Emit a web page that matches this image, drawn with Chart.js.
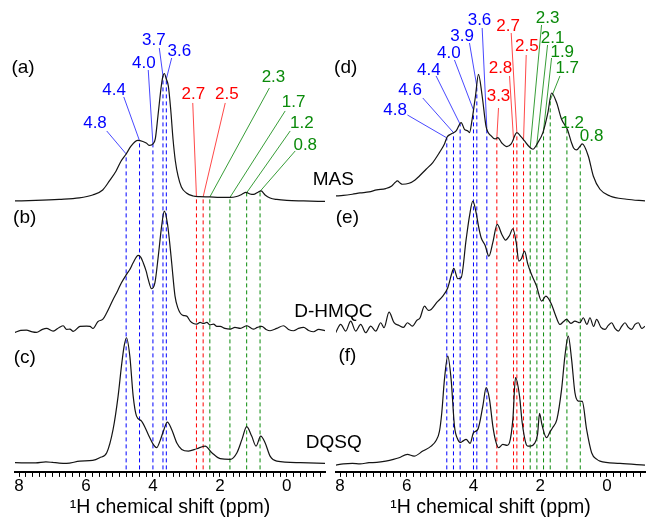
<!DOCTYPE html>
<html>
<head>
<meta charset="utf-8">
<script src="https://cdn.jsdelivr.net/npm/chart.js@4.4.1/dist/chart.umd.min.js"></script>
<style>
  html, body { margin: 0; padding: 0; background: #fff; }
  #wrap { position: relative; width: 646px; height: 519px; }
  #wrap canvas { position: absolute; left: 0; top: 0; }
</style>
</head>
<body>
<div id="wrap">
  <canvas id="left" width="646" height="519"></canvas>
  <canvas id="right" width="646" height="519"></canvas>
</div>
<script>
// chemical shift window shared by both panels (ppm, axis is reversed)
const PPM_MIN = -1.14;
const PPM_MAX = 8.12;
const TICK_LABELS = [8, 6, 4, 2, 0];
const AXIS_TITLE = '\u00B9H chemical shift (ppm)';

// (a) 1H MAS
const masAPpm = [8.13, 7.5, 6.8, 6.2, 5.8, 5.5, 5.3, 5.1, 4.95, 4.8, 4.65, 4.45, 4.3, 4.2, 4.1, 4.0, 3.93, 3.85, 3.75, 3.7, 3.66, 3.6, 3.54, 3.47, 3.4, 3.33, 3.25, 3.15, 3.0, 2.8, 2.6, 2.3, 2.0, 1.7, 1.5, 1.35, 1.22, 1.1, 1.0, 0.85, 0.77, 0.65, 0.5, 0.3, 0.0, -0.5, -1.14];
const masAInt = [0, 0.5, 1.5, 3, 6, 11, 20, 30, 40, 47, 55, 60.5, 59.5, 58, 55.5, 57, 62, 85, 115, 125, 127.5, 122, 115, 92, 62, 40, 25, 14, 8, 5, 4.3, 4, 3.5, 3.5, 4.5, 6.5, 8.5, 7, 6.5, 9, 10, 6, 3, 1.5, 0.5, 0, -0.5];

// (b) D-HMQC
const hmqcBPpm = [8.13, 7.95, 7.78, 7.6, 7.48, 7.3, 7.18, 6.98, 6.8, 6.68, 6.58, 6.48, 6.38, 6.18, 5.98, 5.88, 5.79, 5.64, 5.5, 5.38, 5.19, 5.05, 4.94, 4.79, 4.69, 4.59, 4.44, 4.36, 4.29, 4.2, 4.14, 4.04, 3.94, 3.84, 3.74, 3.66, 3.57, 3.5, 3.44, 3.34, 3.25, 3.19, 3.1, 2.99, 2.88, 2.79, 2.69, 2.59, 2.49, 2.39, 2.3, 2.19, 2.09, 1.99, 1.85, 1.69, 1.55, 1.39, 1.19, 1.0, 0.88, 0.75, 0.62, 0.5, 0.3, 0.1, -0.05, -0.2, -0.35, -0.5, -0.65, -0.8, -0.95, -1.14];
const hmqcBInt = [0, 2, 2.3, 0.5, 0, 3, 4, 1.3, 5, 6.7, 3, 3.3, 1, 6, 6.3, 6, 4, 11, 13, 19.7, 33, 42, 49.7, 58, 63, 69.7, 77, 75, 69.7, 61, 53, 43.7, 49.7, 76.3, 106.3, 121.3, 109.7, 90, 69.7, 36.3, 24, 19.7, 17, 16.3, 11, 9, 8.3, 10, 9, 10, 7.5, 8.3, 6, 6, 4, 3.3, 5, 4, 6.7, 3.3, 5, 6, 3, 1.7, 4, 6.7, 3, 1.7, 4, 5, 2, 0.7, 3, 1.7];

// (c) DQSQ
const dqsqCPpm = [8.13, 7.5, 7.2, 7.0, 6.8, 6.58, 6.18, 5.8, 5.59, 5.38, 5.19, 5.04, 4.94, 4.86, 4.79, 4.69, 4.59, 4.49, 4.34, 4.14, 3.99, 3.89, 3.79, 3.67, 3.57, 3.44, 3.29, 3.14, 2.94, 2.69, 2.44, 2.24, 1.99, 1.69, 1.49, 1.34, 1.2, 1.05, 0.92, 0.78, 0.65, 0.5, 0.3, -0.4, -1.14];
const dqsqCInt = [0.7, 0.5, 1.5, 1, 0.3, 0, 2.3, 3, 5.7, 10.7, 34, 67.3, 97.3, 117.3, 125.7, 107.3, 67.3, 47.3, 42.3, 29, 19, 15.7, 22.3, 34, 41.3, 34, 20.7, 14, 12.3, 14.7, 17.3, 10.7, 4.7, 4, 10.7, 24, 36.7, 27.3, 17.3, 27.3, 20.7, 7.3, 2.3, 0.7, 0];

// (d) 1H MAS
const masDPpm = [8.13, 7.9, 7.63, 7.4, 7.13, 6.9, 6.63, 6.45, 6.35, 6.28, 6.2, 6.13, 5.93, 5.75, 5.62, 5.42, 5.22, 5.02, 4.87, 4.79, 4.67, 4.52, 4.37, 4.27, 4.17, 4.12, 4.04, 3.94, 3.85, 3.74, 3.62, 3.47, 3.35, 3.27, 3.15, 3.0, 2.87, 2.7, 2.57, 2.47, 2.35, 2.22, 2.07, 1.92, 1.77, 1.66, 1.51, 1.36, 1.18, 1.06, 1.0, 0.91, 0.8, 0.74, 0.56, 0.41, 0.21, -0.09, -0.59, -1.14];
const masDInt = [5, 5.5, 6.7, 8, 9, 11, 12.4, 15, 18.4, 20, 18, 16.7, 17.7, 21, 25, 31.7, 38.4, 48.4, 57, 64, 67, 70, 78.4, 71.7, 70, 68.4, 81.7, 105, 126.7, 105, 74, 65, 62, 63.4, 58, 54.4, 57, 68.4, 64, 60, 55, 51.7, 58.4, 68.4, 88.4, 108, 98.4, 81.7, 71, 58, 53, 51, 55, 57, 45, 25, 11.7, 5, 1.7, 0];

// (e) D-HMQC
const hmqcEPpm = [8.13, 7.98, 7.83, 7.68, 7.53, 7.38, 7.23, 7.08, 6.93, 6.78, 6.68, 6.53, 6.38, 6.23, 6.1, 5.98, 5.83, 5.7, 5.6, 5.47, 5.35, 5.27, 5.1, 4.92, 4.77, 4.66, 4.59, 4.47, 4.37, 4.22, 4.12, 4.02, 3.92, 3.85, 3.77, 3.65, 3.54, 3.42, 3.29, 3.15, 3.04, 2.92, 2.82, 2.72, 2.64, 2.56, 2.47, 2.37, 2.26, 2.11, 1.96, 1.83, 1.66, 1.55, 1.41, 1.3, 1.21, 1.08, 0.96, 0.81, 0.71, 0.6, 0.51, 0.4, 0.31, 0.18, 0.06, -0.04, -0.14, -0.24, -0.34, -0.44, -0.54, -0.64, -0.74, -0.84, -0.94, -1.04, -1.14];
const hmqcEInt = [-2.3, 6, -0.7, 9.3, -0.7, 6, -2.3, 4.3, -0.7, 7.7, 2.7, 18.3, 7.7, 5, 3, 7.7, 4.3, 10, 12.7, 24.3, 20, 21, 28, 34.3, 42.7, 56, 62, 51.7, 52.7, 91, 114.3, 129.3, 117.7, 104.3, 92.7, 85, 74.3, 88, 106, 96, 90.3, 95, 101.7, 88, 69.3, 72, 79.3, 66, 56, 44.3, 29.3, 34.3, 26, 16, 6, 9, 11, 7, 9.3, 7.7, 12.7, 6, 12.7, 4, 11, 3, 1, 5, 7.7, 2, -0.7, 4, 7.7, 3, 1, 6, 7.7, 2, 4.3];

// (f) DQSQ
const dqsqFPpm = [8.13, 7.9, 7.63, 7.4, 7.13, 6.9, 6.63, 6.4, 6.23, 5.98, 5.78, 5.52, 5.27, 5.12, 5.02, 4.95, 4.87, 4.77, 4.67, 4.57, 4.47, 4.38, 4.32, 4.22, 4.1, 4.0, 3.87, 3.72, 3.62, 3.52, 3.42, 3.34, 3.25, 3.12, 2.99, 2.92, 2.82, 2.74, 2.62, 2.54, 2.42, 2.37, 2.29, 2.17, 2.08, 2.02, 1.95, 1.81, 1.7, 1.63, 1.5, 1.36, 1.26, 1.16, 1.06, 0.96, 0.86, 0.74, 0.61, 0.46, 0.3, 0.21, -0.39, -1.14];
const dqsqFInt = [-0.7, 0.5, 1, 0.5, 1.7, 2, 3.3, 5, 6.7, 10, 8.3, 13.3, 18.3, 24, 33, 51.7, 85, 108.3, 85, 38.3, 25, 22, 23.3, 25, 21, 31.7, 35, 58.3, 76.7, 65, 38.3, 24, 16.7, 20, 19, 21.7, 45, 86.7, 68.3, 41.7, 20, 18.3, 18.3, 21, 30, 51, 40, 26.7, 33, 36.7, 45, 75, 108.3, 128.3, 105, 71.7, 63.3, 63, 35, 11.7, 5, 3.3, 1, -0.7];

// assigned shifts (ppm) with colour group: b = blue, r = red, g = green
const leftShifts = [4.8, 4.4, 4.0, 3.7, 3.6, 2.7, 2.5, 2.3, 1.7, 1.2, 0.8];
const leftGroups = ['b', 'b', 'b', 'b', 'b', 'r', 'r', 'g', 'g', 'g', 'g'];
const rightShifts = [4.8, 4.6, 4.4, 4.0, 3.9, 3.6, 3.3, 2.8, 2.7, 2.5, 2.3, 2.1, 1.9, 1.7, 1.2, 0.8];
const rightGroups = ['b', 'b', 'b', 'b', 'b', 'b', 'r', 'r', 'r', 'r', 'g', 'g', 'g', 'g', 'g', 'g'];

// where each shift label sits: [labelPpm, labelHeight, leaderPpm, leaderHeight] (leader null = none)
const leftLabelPos = [
  [5.73, 349, 5.38, 341], [5.16, 382, 4.87, 375], [4.27, 409, 4.14, 402], [3.97, 432, 3.81, 424],
  [3.21, 421, 3.44, 414], [2.79, 378, 2.81, 369], [1.79, 378, 1.84, 369], [0.40, 395, 0.52, 384],
  [-0.20, 370, 0.05, 361], [-0.45, 349, -0.10, 341], [-0.55, 327, -0.25, 321]
];
const rightLabelPos = [
  [6.35, 362, 5.98, 357], [5.90, 382, 5.52, 374], [5.34, 402, 5.12, 396], [4.74, 419, 4.57, 412],
  [4.34, 436, 4.12, 429], [3.82, 452, 3.74, 444], [3.25, 376, 3.25, 364], [3.19, 404, 2.92, 396],
  [2.96, 446, 2.87, 439], [2.40, 426, 2.42, 417], [1.78, 454, 1.96, 447], [1.63, 434, 1.78, 427],
  [1.34, 420, 1.66, 414], [1.19, 404, 1.41, 396], [1.04, 349, null, null], [0.46, 336, null, null]
];

const COLORS = { b: '#0000ff', r: '#ff0000', g: '#0a8a0a' };
const LEADER = { b: 'rgba(40,40,255,0.85)', r: 'rgba(255,40,40,0.85)', g: 'rgba(20,140,20,0.85)' };
const FONT = '"Liberation Sans", Arial, sans-serif';
const Y_MAX = 472;
const DASH_BOTTOM = 2.5;

function interp(xs, ys, p) {
  for (let i = 0; i < xs.length - 1; i++) {
    if (xs[i] >= p && p >= xs[i + 1]) {
      let t = (xs[i] - p) / (xs[i] - xs[i + 1]);
      return ys[i] + t * (ys[i + 1] - ys[i]);
    }
  }
  return 0;
}

function trace(ppm, intensity, offset) {
  return {
    data: ppm.map((p, i) => ({ x: p, y: intensity[i] + offset })),
    borderColor: '#141414',
    borderWidth: 1.2,
    cubicInterpolationMode: 'monotone',
    pointRadius: 0,
    fill: false,
    order: 0,
  };
}

function buildPanel(id, cfg) {
  let { spectra, mas, shifts, groups, labelPos, panelTags, names, padding } = cfg;
  let datasets = [];
  let texts = [];

  // dashed guides from the MAS trace down to the axis, plus leader lines to labels
  shifts.forEach((s, i) => {
    let g = groups[i];
    let top = interp(mas.ppm, mas.int, s) + mas.offset;
    datasets.push({
      data: [{ x: s, y: DASH_BOTTOM }, { x: s, y: top }],
      borderColor: COLORS[g], borderWidth: 1, borderDash: [4, 3], pointRadius: 0, order: 2,
    });
    let [lx, ly, sx, sy] = labelPos[i];
    if (sx !== null) {
      datasets.push({
        data: [{ x: sx, y: sy }, { x: s, y: top }],
        borderColor: LEADER[g], borderWidth: 1, pointRadius: 0, order: 1,
      });
    }
    texts.push({ text: s.toFixed(1), x: lx, y: ly, color: COLORS[g], size: 17 });
  });

  spectra.forEach(sp => datasets.push(trace(sp.ppm, sp.int, sp.offset)));
  panelTags.forEach(t => texts.push({ text: t[0], x: t[1], y: t[2], color: '#000', size: 19 }));
  names.forEach(t => texts.push({ text: t[0], x: t[1], y: t[2], color: '#000', size: 19 }));

  const textPlugin = {
    id: 'annotations',
    afterDatasetsDraw(chart) {
      let { ctx, scales } = chart;
      ctx.save();
      ctx.textAlign = 'center';
      ctx.textBaseline = 'middle';
      texts.forEach(t => {
        ctx.font = t.size + 'px ' + FONT;
        ctx.fillStyle = t.color;
        ctx.fillText(t.text, scales.x.getPixelForValue(t.x), scales.y.getPixelForValue(t.y));
      });
      ctx.restore();
    },
  };

  return new Chart(document.getElementById(id), {
    type: 'line',
    data: { datasets },
    options: {
      responsive: false,
      animation: false,
      events: [],
      layout: { padding },
      plugins: { legend: { display: false }, tooltip: { enabled: false } },
      scales: {
        x: {
          type: 'linear',
          reverse: true,
          min: PPM_MIN,
          max: PPM_MAX,
          border: { display: true, color: '#000', width: 2 },
          grid: { drawOnChartArea: false, drawTicks: true, tickLength: 5, tickColor: '#000', tickWidth: 1 },
          // minor ticks every 0.2 ppm inside the window
          afterBuildTicks: scale => {
            let ticks = [];
            for (let k = Math.ceil(PPM_MIN * 5); k <= Math.floor(PPM_MAX * 5); k++) {
              ticks.push({ value: k / 5 });
            }
            scale.ticks = ticks;
          },
          ticks: {
            autoSkip: false,
            maxRotation: 0,
            padding: 0,
            color: '#000',
            font: { family: FONT, size: 17, lineHeight: 1.1 },
            callback: v => {
              let r = Math.round(v);
              return Math.abs(v - r) < 1e-6 && TICK_LABELS.includes(r) ? String(Math.abs(r)) : '';
            },
          },
          title: {
            display: true,
            text: AXIS_TITLE,
            color: '#000',
            font: { family: FONT, size: 19.5, lineHeight: 1.2 },
            padding: { top: 0, bottom: 0 },
          },
        },
        y: { display: false, min: 0, max: Y_MAX },
      },
    },
    plugins: [textPlugin],
  });
}

buildPanel('left', {
  spectra: [
    { ppm: masAPpm, int: masAInt, offset: 271 },
    { ppm: hmqcBPpm, int: hmqcBInt, offset: 139.5 },
    { ppm: dqsqCPpm, int: dqsqCInt, offset: 8.5 },
  ],
  mas: { ppm: masAPpm, int: masAInt, offset: 271 },
  shifts: leftShifts,
  groups: leftGroups,
  labelPos: leftLabelPos,
  panelTags: [['(a)', 7.88, 404], ['(b)', 7.83, 254], ['(c)', 7.83, 114]],
  names: [['MAS', -1.39, 292], ['D-HMQC', -1.39, 160], ['DQSQ', -1.40, 29]],
  padding: { left: 15, right: 321, top: 0, bottom: 0 },
});

buildPanel('right', {
  spectra: [
    { ppm: masDPpm, int: masDInt, offset: 271 },
    { ppm: hmqcEPpm, int: hmqcEInt, offset: 141.5 },
    { ppm: dqsqFPpm, int: dqsqFInt, offset: 7.5 },
  ],
  mas: { ppm: masDPpm, int: masDInt, offset: 271 },
  shifts: rightShifts,
  groups: rightGroups,
  labelPos: rightLabelPos,
  panelTags: [['(d)', 7.83, 404], ['(e)', 7.78, 254], ['(f)', 7.78, 116]],
  names: [],
  padding: { left: 336, right: 1, top: 0, bottom: 0 },
});
</script>
</body>
</html>
